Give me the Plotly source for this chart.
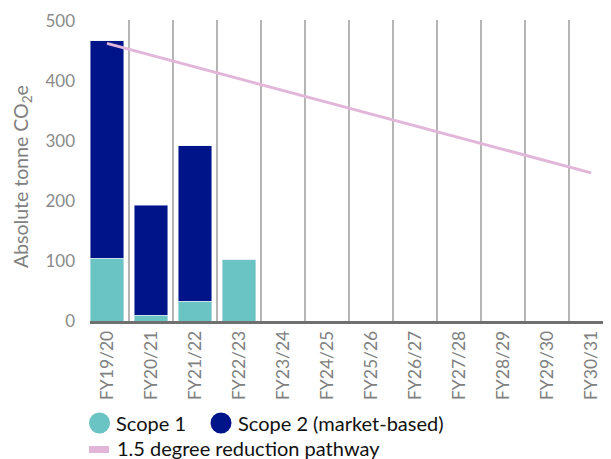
import plotly.graph_objects as go

categories = ["FY19/20", "FY20/21", "FY21/22", "FY22/23", "FY23/24", "FY24/25",
              "FY25/26", "FY26/27", "FY27/28", "FY28/29", "FY29/30", "FY30/31"]
scope1 = [105, 10, 33, 102, None, None, None, None, None, None, None, None]
scope2 = [362, 183, 259, 0, None, None, None, None, None, None, None, None]
pathway = [463, 443.4, 423.7, 404.1, 384.5, 364.8, 345.2, 325.5, 305.9, 286.3, 266.6, 247]
y_ticks = [0, 100, 200, 300, 400, 500]
legend_labels = ["Scope 1", "Scope 2 (market-based)", "1.5 degree reduction pathway"]

C1 = "#6BC4C4"
C2 = "#001489"
CL = "#E2B6D9"
FONT = "Lato"

# page-pixel -> paper helpers (plot area spans page x 90..611, y 20..321)
PX0, PW, PY1, PH = 90.0, 521.0, 321.0, 301.0
def px(x):
    return (x - PX0) / PW
def py(y):
    return (PY1 - y) / PH

fig = go.Figure()
fig.add_trace(go.Bar(x=categories, y=scope1, name=legend_labels[0], marker_color=C1,
                     showlegend=False, width=0.77))
fig.add_trace(go.Bar(x=categories, y=scope2, name=legend_labels[1], marker_color=C2,
                     showlegend=False, width=0.77))
fig.add_trace(go.Scatter(x=categories, y=pathway, mode="lines", name=legend_labels[2],
                         line=dict(color=CL, width=3), showlegend=False))

# hand-drawn legend (circles, swatch and labels)
shapes = [
    dict(type="circle", xref="paper", yref="paper", x0=px(89), x1=px(110), y0=py(433.5), y1=py(412.5),
         fillcolor=C1, line=dict(width=0)),
    dict(type="circle", xref="paper", yref="paper", x0=px(210.5), x1=px(231.5), y0=py(433.5), y1=py(412.5),
         fillcolor=C2, line=dict(width=0)),
    dict(type="rect", xref="paper", yref="paper", x0=px(89), x1=px(109), y0=py(453), y1=py(446),
         fillcolor=CL, line=dict(width=0)),
]
leg_font = dict(family=FONT, size=20, color="#111111")
annotations = [
    dict(text=legend_labels[0], x=px(114), y=py(423), xref="paper", yref="paper",
         xanchor="left", yanchor="middle", showarrow=False, font=leg_font),
    dict(text=legend_labels[1], x=px(236), y=py(423), xref="paper", yref="paper",
         xanchor="left", yanchor="middle", showarrow=False, font=leg_font),
    dict(text=legend_labels[2], x=px(115), y=py(448), xref="paper", yref="paper",
         xanchor="left", yanchor="middle", showarrow=False, font=leg_font),
    dict(text="Absolute tonne CO<sub>2</sub>e", textangle=-90,
         xref="paper", yref="paper", x=px(22), y=py(177),
         xanchor="center", yanchor="middle", showarrow=False,
         font=dict(family=FONT, size=19.5, color="#808080")),
]

fig.update_layout(
    width=603, height=451,
    margin=dict(l=82, r=0, t=12, b=138, autoexpand=False),
    barmode="stack",
    plot_bgcolor="white", paper_bgcolor="white",
    font=dict(family=FONT, color="#808080", size=17),
    showlegend=False,
    shapes=shapes,
    annotations=annotations,
)
fig.update_xaxes(
    type="category", range=[-0.386, 11.45], automargin=False,
    tickangle=-90, tickson="boundaries", ticks="",
    showgrid=True, gridcolor="#B5B5B5", gridwidth=1.5,
    showline=True, linecolor="#707070", linewidth=2.5,
    tickfont=dict(size=17.5, color="#808080"), ticklabelstandoff=0,
)
fig.update_yaxes(
    range=[0, 502], tickvals=y_ticks, showgrid=False, zeroline=False, showline=False,
    automargin=False,
    tickfont=dict(size=17, color="#8a8a8a"), ticklabelstandoff=14,
)
fig.write_html("out.html")
